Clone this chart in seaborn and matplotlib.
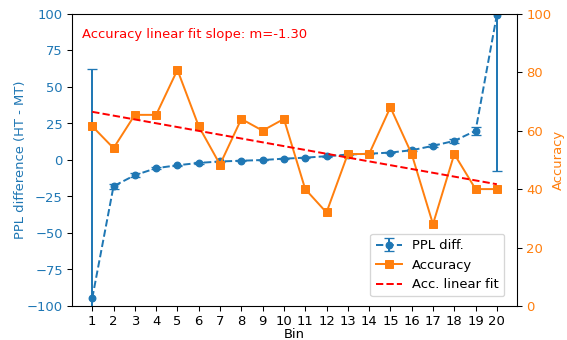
import numpy as np
import pandas as pd
import matplotlib
matplotlib.use("Agg")
import matplotlib.pyplot as plt
import seaborn as sns

bins = list(range(1, 21))
ppl_diff = [-94.7, -18.0, -10.5, -5.7, -3.7, -2.1, -1.1, -0.6, -0.1, 0.8,
            1.5, 2.5, 3.6, 4.2, 5.0, 6.6, 9.6, 13.0, 19.9, 99.3]
ppl_err = [156.6, 1.6, 1.2, 0.6, 0.5, 0.4, 0.3, 0.3, 0.3, 0.3,
           0.3, 0.4, 0.4, 0.5, 0.5, 0.7, 1.0, 1.3, 2.8, 106.6]
accuracy = [61.5, 54.0, 65.4, 65.4, 80.8, 61.5, 48.4, 64.0, 60.0, 64.0,
            40.0, 32.0, 52.0, 52.0, 68.0, 52.0, 28.0, 52.0, 40.0, 40.0]

blue = "#1f77b4"
orange = "#ff7f0e"

plt.rcParams['font.family'] = ['DejaVu Sans']

df = pd.DataFrame({"Bin": bins, "PPL": ppl_diff, "err": ppl_err, "Acc": accuracy})

fig = plt.figure(figsize=(6.0, 3.6), dpi=94.5)
ax = fig.add_axes([0.127, 0.1, 0.785, 0.859])
ax2 = ax.twinx()

ax.errorbar(df["Bin"], df["PPL"], yerr=df["err"], fmt="o--", color=blue,
            markersize=5, capsize=4, label="PPL diff.")
sns.lineplot(data=df, x="Bin", y="Acc", ax=ax2, color=orange, marker="s",
             markersize=6, markeredgecolor=orange, label="Accuracy", legend=False)
m, c = np.polyfit(df["Bin"], df["Acc"], 1)
fit = m * df["Bin"] + c
sns.lineplot(x=df["Bin"], y=fit, ax=ax2, color="red", linestyle="--",
             label="Acc. linear fit", legend=False)

ax.set_xlim(0.05, 20.95)
ax.set_ylim(-100, 100)
ax2.set_ylim(0, 100)
ax.set_xticks(bins)
ax.set_xlabel("Bin", labelpad=0)
ax.set_ylabel("PPL difference (HT - MT)", color=blue, labelpad=0)
ax2.set_ylabel("Accuracy", color=orange, labelpad=0)
ax.tick_params(axis="y", labelcolor=blue)
ax2.tick_params(axis="y", labelcolor=orange)
ax.set_yticks(np.arange(-100, 101, 25))
ax2.set_yticks(np.arange(0, 101, 20))

ax.text(0.022, 0.93, f"Accuracy linear fit slope: m={m:.2f}", color="red",
        transform=ax.transAxes, va="center", ha="left", fontsize=10)

handles1, labels1 = ax.get_legend_handles_labels()
handles2, labels2 = ax2.get_legend_handles_labels()
ax2.legend(handles1 + handles2, labels1 + labels2, loc="lower right",
           bbox_to_anchor=(0.986, 0.01))

fig.savefig("out.png", dpi=94.5)
